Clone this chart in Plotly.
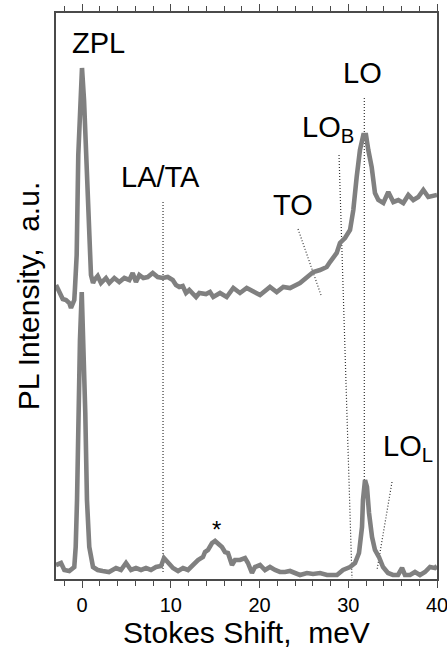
import plotly.graph_objects as go

# ---------------- data ----------------
# Upper spectrum (offset), Stokes shift in meV vs PL intensity (a.u.)
shift_upper = [-2.93, -2.56, -2.17, -1.80, -1.43, -1.24, -0.87, -0.79, -0.60, -0.42,
               -0.23, 0.00, 0.23, 0.45, 0.68, 0.85, 1.01, 1.24, 1.39, 1.77,
               2.14, 2.70, 3.08, 3.64, 4.20, 4.77, 5.33, 5.71, 6.08, 6.46,
               6.91, 7.40, 7.97, 8.53, 9.09, 9.66, 10.22, 10.59, 10.96, 11.35,
               11.72, 12.09, 12.47, 12.85, 13.22, 13.60, 13.97, 14.42, 14.79, 15.55,
               16.30, 17.05, 17.80, 18.56, 19.30, 20.06, 21.18, 21.94, 22.68, 23.44,
               24.56, 25.32, 26.06, 26.82, 27.57, 27.94, 28.70, 29.07, 29.63, 30.20,
               30.57, 30.95, 31.32, 31.70, 32.00, 32.26, 32.64, 33.01, 33.39, 33.95,
               34.51, 35.08, 35.64, 36.20, 36.77, 37.33, 37.89, 38.46, 39.02, 40.00]
pl_upper = [294, 286, 280, 279, 276, 271, 279, 291, 324, 424,
            479, 511, 479, 424, 364, 324, 304, 296, 299, 303,
            296, 301, 296, 301, 297, 301, 299, 306, 297, 304,
            301, 302, 306, 302, 301, 302, 299, 294, 292, 293,
            286, 289, 286, 282, 286, 286, 285, 287, 282, 286,
            282, 291, 286, 291, 288, 284, 292, 287, 292, 291,
            296, 302, 307, 309, 312, 317, 326, 336, 341, 349,
            369, 402, 429, 444, 444, 429, 412, 386, 379, 376,
            387, 377, 379, 376, 384, 379, 382, 389, 382, 384]

# Lower spectrum
shift_lower = [-2.93, -2.37, -1.99, -1.43, -0.87, -0.71, -0.56, -0.42, -0.23, -0.03,
               0.17, 0.37, 0.56, 0.82, 1.24, 1.77, 2.33, 3.04, 3.83, 4.39,
               4.96, 5.52, 6.08, 6.65, 7.21, 7.77, 8.34, 8.90, 9.24, 9.69,
               10.25, 10.82, 11.38, 11.94, 12.51, 13.07, 13.63, 13.86, 14.20, 14.65,
               14.99, 15.32, 15.77, 16.11, 16.45, 16.90, 17.24, 17.80, 18.37, 18.70,
               19.15, 19.49, 20.06, 20.62, 21.18, 21.75, 22.31, 22.87, 23.44, 24.00,
               24.56, 25.35, 26.03, 26.82, 27.61, 28.28, 28.73, 29.41, 30.20, 30.76,
               31.21, 31.55, 31.66, 31.89, 32.11, 32.34, 32.68, 33.01, 33.46, 33.92,
               34.48, 35.04, 35.61, 36.06, 36.39, 36.96, 37.52, 38.08, 38.65, 39.21,
               39.77, 40.00]
pl_lower = [14, 16, 9, 8, 12, 32, 79, 166, 239, 287,
            239, 166, 79, 32, 12, 9, 8, 7, 11, 9,
            16, 9, 11, 9, 11, 9, 12, 13, 21, 17,
            11, 8, 11, 9, 14, 19, 22, 27, 29, 36,
            38, 36, 32, 27, 26, 14, 19, 19, 21, 16,
            6, 12, 14, 9, 12, 9, 7, 7, 8, 6,
            4, 6, 5, 6, 4, 4, 4, 9, 12, 16,
            26, 52, 79, 99, 92, 66, 42, 29, 22, 12,
            6, 4, 4, 11, 4, 4, 7, 4, 7, 12,
            11, 13]

# Dotted guide lines (meV, a.u.)
guide_la_ta_x = [9.13, 9.13]
guide_la_ta_y = [377, 6]
guide_to_x = [24.34, 26.93]
guide_to_y = [350, 284]
guide_lob_x = [28.96, 30.42]
guide_lob_y = [424, 1]
guide_lo_x = [31.81, 31.81]
guide_lo_y = [481, 94]
guide_lol_x = [34.93, 33.24]
guide_lol_y = [97, 9]

# Peak labels
label_text = ["ZPL", "LA/TA", "TO", "LO<sub>B</sub>", "LO", "LO<sub>L</sub>", "*"]
label_x = [1.86, 8.85, 23.77, 27.7, 31.6, 36.7, 15.1]
label_y = [536, 402, 374, 450, 506, 131, 50]

tick_vals = [0, 10, 20, 30, 40]
tick_text = ["0", "10", "20", "30", "40"]

# ---------------- figure ----------------
FONT = "Liberation Sans, Arial, Helvetica, sans-serif"
CURVE = "#808080"
FRAME = "#4a4a4a"

fig = go.Figure()

guides = [(guide_la_ta_x, guide_la_ta_y), (guide_to_x, guide_to_y),
          (guide_lob_x, guide_lob_y), (guide_lo_x, guide_lo_y),
          (guide_lol_x, guide_lol_y)]
for gx, gy in guides:
    fig.add_trace(go.Scatter(x=gx, y=gy, mode="lines",
                             line=dict(color="#333333", width=1.2, dash="1px,2px"),
                             showlegend=False, hoverinfo="skip"))

fig.add_trace(go.Scatter(x=shift_upper, y=pl_upper, mode="lines",
                         line=dict(color=CURVE, width=4.6, shape="linear"),
                         showlegend=False))
fig.add_trace(go.Scatter(x=shift_lower, y=pl_lower, mode="lines",
                         line=dict(color=CURVE, width=4.6, shape="linear"),
                         showlegend=False))

for t, lx, ly in zip(label_text, label_x, label_y):
    fig.add_annotation(x=lx, y=ly, text=t, showarrow=False,
                       font=dict(family=FONT, size=24 if t == "*" else 29, color="black"),
                       xanchor="center", yanchor="middle")

x_range = [-2.93, 40.0]
fig.update_layout(
    width=447, height=651,
    margin=dict(l=56, r=10, t=13, b=72, autoexpand=False),
    plot_bgcolor="white", paper_bgcolor="white",
    font=dict(family=FONT, color="black"),
    xaxis=dict(range=x_range, tickvals=tick_vals, ticktext=tick_text,
               ticks="outside", ticklen=7, tickwidth=1.3, tickcolor=FRAME,
               minor=dict(dtick=2, tick0=0, ticks="outside", ticklen=5,
                          tickwidth=1.3, tickcolor=FRAME),
               ticklabeloverflow="allow",
               showline=True, linecolor=FRAME, linewidth=1.5, mirror="ticks",
               showgrid=False, zeroline=False, automargin=False,
               tickfont=dict(size=20, family=FONT),
               title=dict(text="Stokes Shift,\u00a0 meV",
                          font=dict(size=30, family=FONT), standoff=4)),
    yaxis=dict(range=[0, 566], showticklabels=False, ticks="",
               showline=True, linecolor=FRAME, linewidth=1.5, mirror=True,
               showgrid=False, zeroline=False, automargin=False,
               title=dict(text="PL Intensity,\u00a0 a.u.",
                          font=dict(size=30, family=FONT), standoff=6)),
)

fig.write_html("out.html",
               config={"displayModeBar": False},
               post_script="document.body.style.margin='0';"
                           "document.body.style.overflow='hidden';")
